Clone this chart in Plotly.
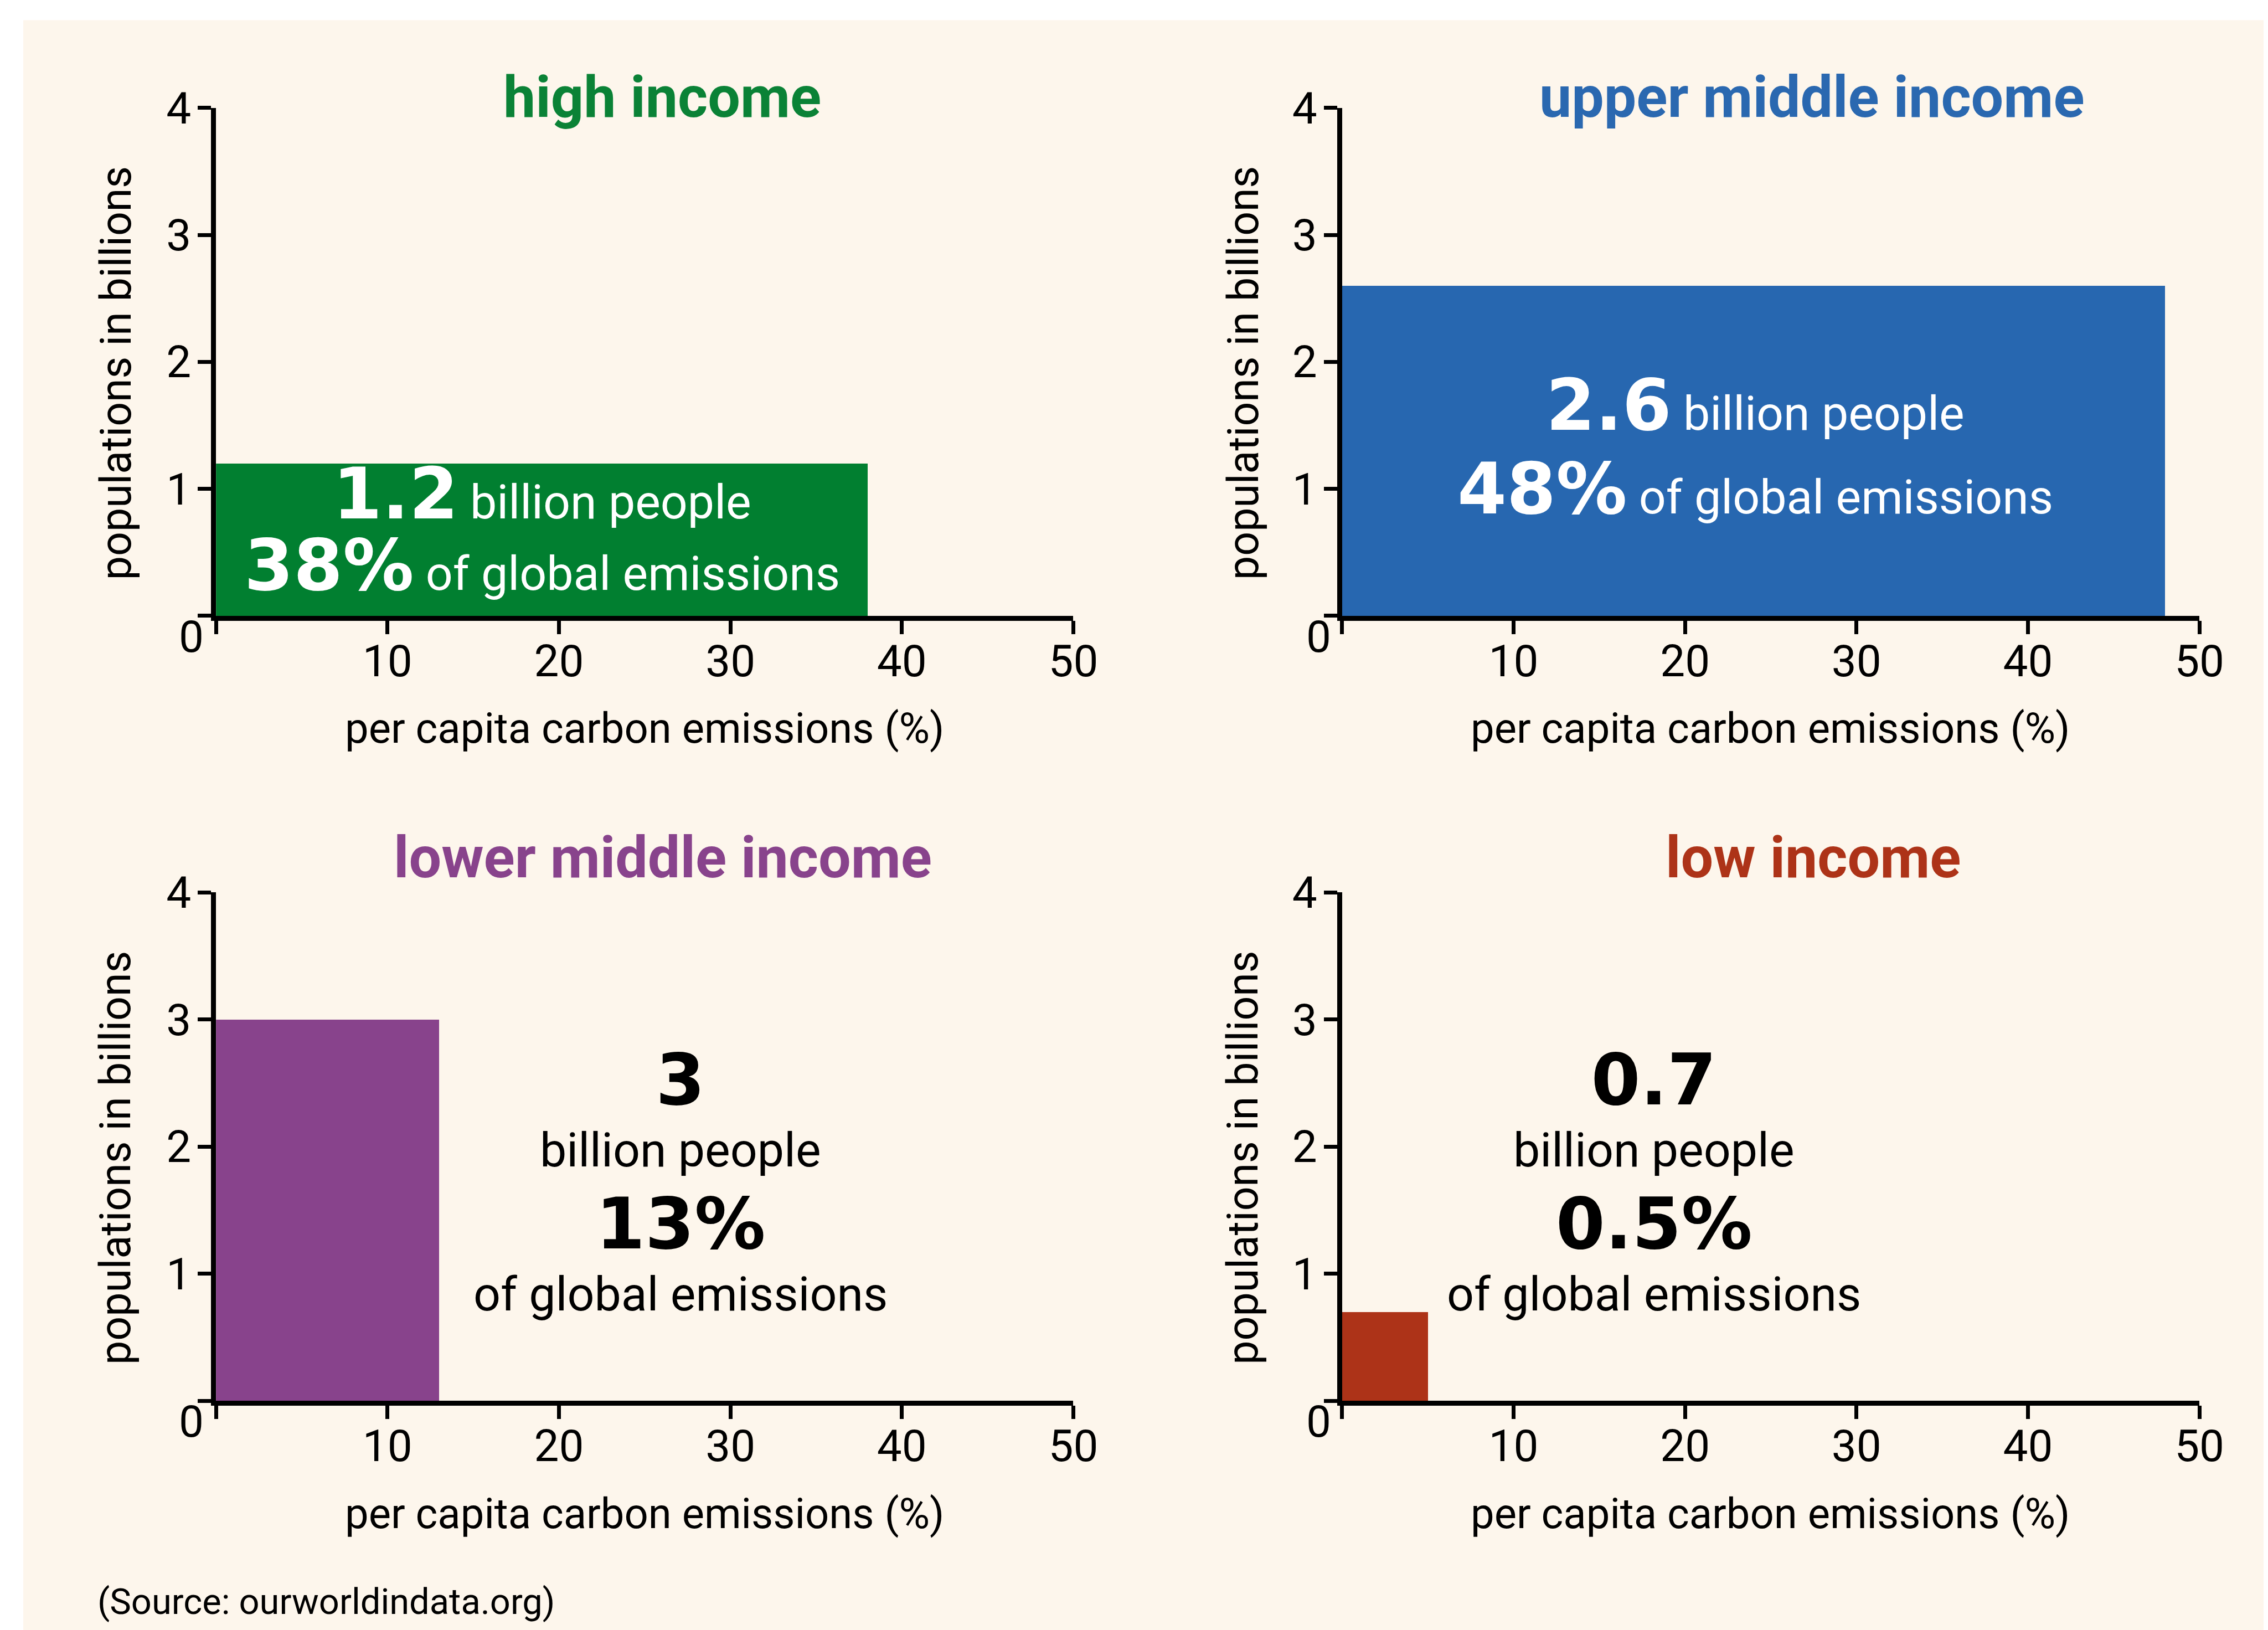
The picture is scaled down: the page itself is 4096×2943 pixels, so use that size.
import plotly.graph_objects as go

# ---------------- data ----------------
groups = ["high income", "upper middle income", "lower middle income", "low income"]
emission_x = [38, 48, 13, 5]          # bar width on the x axis (per capita carbon emissions %)
population_bn = [1.2, 2.6, 3, 0.7]    # bar height (populations in billions)
pop_labels = ["1.2", "2.6", "3", "0.7"]
share_labels = ["38%", "48%", "13%", "0.5%"]
bar_colors = ["#017f30", "#2767b0", "#88438c", "#ad3318"]
title_colors = ["#0a8236", "#2a68b0", "#88438c", "#ad3318"]

x_tickvals = [0, 10, 20, 30, 40, 50]
x_ticktext = ["", "10", "20", "30", "40", "50"]
y_tickvals = [0, 1, 2, 3, 4]
y_ticktext = ["", "1", "2", "3", "4"]
x_title = "per capita carbon emissions (%)"
y_title = "populations in billions"
source_text = "(Source: ourworldindata.org)"

# ---------------- layout geometry ----------------
W, H = 4096, 2943
COND = "Roboto, Liberation Sans, sans-serif"
WIDE = "DejaVu Sans, Verdana, sans-serif"
BG = "#fdf6ec"
DY = 0.0035  # small global vertical correction

x_domains = [[0.0933, 0.4713], [0.5898, 0.9678], [0.0933, 0.4713], [0.5898, 0.9678]]
y_domains = [[0.6214 + DY, 0.9330 + DY], [0.6214 + DY, 0.9330 + DY],
             [0.1398 + DY, 0.4518 + DY], [0.1398 + DY, 0.4518 + DY]]

fig = go.Figure()

for i in range(4):
    xa = "x" if i == 0 else f"x{i+1}"
    ya = "y" if i == 0 else f"y{i+1}"
    fig.add_trace(go.Bar(
        x=[0], y=[population_bn[i]], width=[emission_x[i]], offset=0,
        marker=dict(color=bar_colors[i], line=dict(width=0)),
        xaxis=xa, yaxis=ya, showlegend=False, hoverinfo="skip",
    ))

axis_common = dict(
    showgrid=False, zeroline=False, showline=True, linecolor="black", linewidth=9,
    ticks="outside", ticklen=24, tickwidth=7, tickcolor="black", automargin=False,
    tickfont=dict(family=COND, size=80, color="black"), fixedrange=True,
)

layout = dict(
    width=W, height=H, margin=dict(l=0, r=0, t=0, b=0, pad=0, autoexpand=False),
    paper_bgcolor="white", plot_bgcolor="rgba(0,0,0,0)", bargap=0,
    shapes=[dict(type="rect", xref="paper", yref="paper", x0=0.0083, x1=1.01,
                 y0=-0.01, y1=0.9868 + DY, fillcolor=BG, line=dict(width=0), layer="below")],
)
for i in range(4):
    xk = "xaxis" if i == 0 else f"xaxis{i+1}"
    yk = "yaxis" if i == 0 else f"yaxis{i+1}"
    ya = "y" if i == 0 else f"y{i+1}"
    xa = "x" if i == 0 else f"x{i+1}"
    layout[xk] = dict(axis_common, domain=x_domains[i], range=[0, 50], anchor=ya,
                      tickvals=x_tickvals, ticktext=x_ticktext, ticklabelstandoff=-20)
    layout[yk] = dict(axis_common, domain=y_domains[i], range=[0, 4], anchor=xa,
                      tickvals=y_tickvals, ticktext=y_ticktext, ticklabelstandoff=-4)
fig.update_layout(**layout)

ann = []
title_y = [0.9397, 0.9397, 0.4730, 0.4730]
title_x = [0.2901, 0.7971, 0.2904, 0.7974]
xtitle_y = [0.5523, 0.5523, 0.0707, 0.0707]
ytitle_x = [0.0492, 0.5462, 0.0492, 0.5462]
ytitle_y = [0.7703, 0.7703, 0.2889, 0.2889]
zero_x = [0.0825, 0.5795, 0.0825, 0.5795]
zero_y = [0.6085, 0.6085, 0.1269, 0.1269]

for i in range(4):
    xd = x_domains[i]
    ann.append(dict(text=f"<b>{groups[i]}</b>", x=title_x[i], y=title_y[i] + DY, xref="paper", yref="paper",
                    xanchor="center", yanchor="middle", showarrow=False,
                    font=dict(family=COND, size=104, color=title_colors[i])))
    ann.append(dict(text=x_title, x=(xd[0] + xd[1]) / 2, y=xtitle_y[i] + DY, xref="paper", yref="paper",
                    xanchor="center", yanchor="middle", showarrow=False,
                    font=dict(family=COND, size=76, color="black")))
    ann.append(dict(text=y_title, x=ytitle_x[i], y=ytitle_y[i] + DY, xref="paper", yref="paper",
                    xanchor="center", yanchor="middle", showarrow=False, textangle=-90,
                    font=dict(family=COND, size=77, color="black")))
    ann.append(dict(text="0", x=zero_x[i], y=zero_y[i] + DY, xref="paper", yref="paper",
                    xanchor="center", yanchor="middle", showarrow=False,
                    font=dict(family=COND, size=80, color="black")))

def big(s, size=128):
    return f"<span style='font-family:{WIDE};font-weight:bold;font-size:{size}px'>{s}</span>"

# white text inside the wide bars (data coordinates of each panel)
inside = [(0, 19.0, 0.96, 0.40), (1, 24.1, 1.66, 1.00)]
for i, xc, y1, y2 in inside:
    xa = "x" if i == 0 else f"x{i+1}"
    ya = "y" if i == 0 else f"y{i+1}"
    ann.append(dict(text=big(pop_labels[i]) + " billion people", x=xc, y=y1, xref=xa, yref=ya,
                    xanchor="center", yanchor="middle", showarrow=False,
                    font=dict(family=COND, size=86, color="white")))
    ann.append(dict(text=big(share_labels[i]) + " of global emissions", x=xc, y=y2, xref=xa, yref=ya,
                    xanchor="center", yanchor="middle", showarrow=False,
                    font=dict(family=COND, size=86, color="white")))

# black text beside the narrow bars
outside = [(2, 27.1), (3, 18.2)]
for i, xc in outside:
    xa = f"x{i+1}"
    ya = f"y{i+1}"
    ann.append(dict(text=big(pop_labels[i]) + "<br>billion people", x=xc, y=2.30, xref=xa, yref=ya,
                    xanchor="center", yanchor="middle", align="center", showarrow=False,
                    font=dict(family=COND, size=86, color="black")))
    ann.append(dict(text=big(share_labels[i]) + "<br>of global emissions", x=xc, y=1.17, xref=xa, yref=ya,
                    xanchor="center", yanchor="middle", align="center", showarrow=False,
                    font=dict(family=COND, size=86, color="black")))

ann.append(dict(text=source_text, x=0.0405, y=0.0165 + DY, xref="paper", yref="paper",
                xanchor="left", yanchor="middle", showarrow=False,
                font=dict(family=COND, size=65, color="black")))

fig.update_layout(annotations=ann)
fig.write_html("out.html")
